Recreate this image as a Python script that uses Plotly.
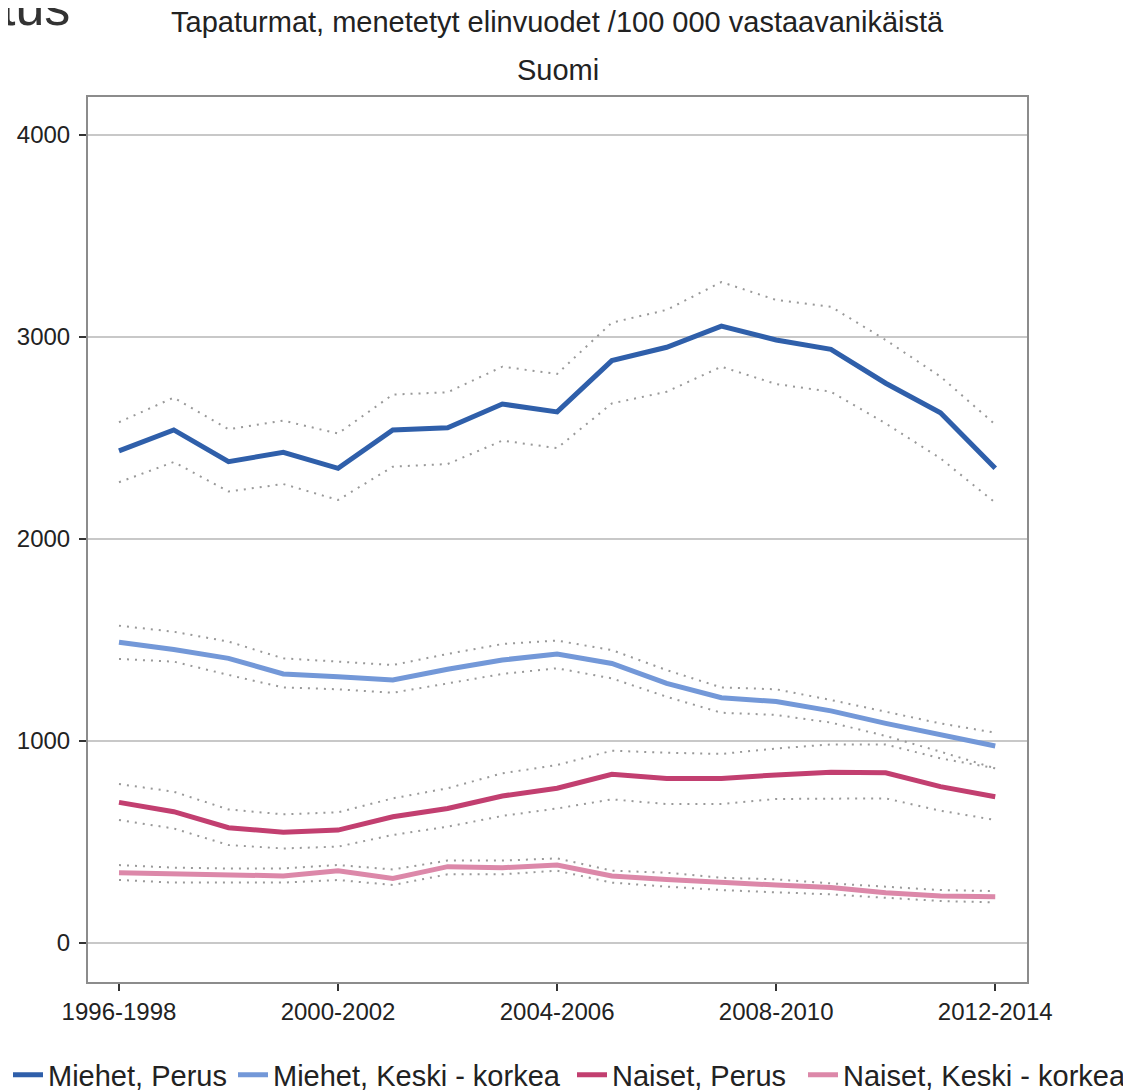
import plotly.graph_objects as go

periods = ["1996-1998", "1997-1999", "1998-2000", "1999-2001", "2000-2002", "2001-2003",
           "2002-2004", "2003-2005", "2004-2006", "2005-2007", "2006-2008", "2007-2009",
           "2008-2010", "2009-2011", "2010-2012", "2011-2013", "2012-2014"]

miehet_perus = [2436, 2540, 2383, 2429, 2350, 2540, 2551, 2668, 2629, 2883, 2949, 3054, 2985, 2939, 2771, 2625, 2350]
miehet_perus_hi = [2578, 2700, 2543, 2586, 2522, 2715, 2726, 2853, 2817, 3071, 3134, 3272, 3183, 3150, 2985, 2804, 2567]
miehet_perus_lo = [2281, 2381, 2235, 2272, 2193, 2358, 2371, 2487, 2450, 2671, 2729, 2853, 2767, 2729, 2572, 2399, 2180]

miehet_kk = [1489, 1453, 1409, 1332, 1318, 1302, 1355, 1401, 1431, 1384, 1285, 1214, 1195, 1149, 1087, 1030, 975]
miehet_kk_hi = [1571, 1541, 1492, 1409, 1393, 1376, 1431, 1480, 1497, 1450, 1351, 1265, 1256, 1203, 1145, 1087, 1041]
miehet_kk_lo = [1406, 1393, 1327, 1265, 1256, 1239, 1285, 1332, 1360, 1310, 1219, 1140, 1129, 1091, 1025, 947, 865]

naiset_perus = [696, 650, 571, 548, 559, 625, 666, 728, 766, 835, 815, 815, 832, 845, 843, 774, 724]
naiset_perus_hi = [787, 749, 661, 637, 647, 716, 766, 840, 881, 952, 942, 936, 963, 983, 983, 914, 865]
naiset_perus_lo = [609, 567, 485, 468, 477, 535, 576, 629, 666, 711, 688, 688, 713, 716, 716, 655, 609]

naiset_kk = [348, 343, 332, 332, 358, 320, 378, 373, 386, 332, 315, 299, 287, 275, 249, 233, 229]
naiset_kk_hi = [386, 373, 369, 369, 386, 364, 408, 408, 419, 358, 348, 323, 315, 295, 279, 262, 257]
naiset_kk_lo = [312, 299, 299, 299, 312, 287, 340, 340, 358, 299, 279, 262, 251, 241, 224, 208, 201]

y_ticks = [0, 1000, 2000, 3000, 4000]
x_tick_idx = [0, 4, 8, 12, 16]

series = [
    ("Miehet, Perus", miehet_perus, miehet_perus_hi, miehet_perus_lo, "#2f5faa"),
    ("Miehet, Keski - korkea", miehet_kk, miehet_kk_hi, miehet_kk_lo, "#7398d8"),
    ("Naiset, Perus", naiset_perus, naiset_perus_hi, naiset_perus_lo, "#c23f70"),
    ("Naiset, Keski - korkea", naiset_kk, naiset_kk_hi, naiset_kk_lo, "#dc88a9"),
]

W, H = 1123, 1083
ML, MT, PW, PH = 80, 89, 939, 885
legend_ids = ["legend", "legend2", "legend3", "legend4"]
legend_left_px = [-11, 225, 564, 795]

xs = list(range(len(periods)))
fig = go.Figure()

for name, v, hi, lo, col in series:
    for band in (hi, lo):
        fig.add_trace(go.Scatter(x=xs, y=band, mode="lines", showlegend=False,
                                 line=dict(color="#999999", width=2, dash="2px,6px"),
                                 hoverinfo="skip"))

for (name, v, hi, lo, col), lid in zip(series, legend_ids):
    fig.add_trace(go.Scatter(x=xs, y=v, mode="lines", name=name, legend=lid,
                             line=dict(color=col, width=5)))

legend_common = dict(orientation="h", xref="container", yref="container",
                     xanchor="left", y=1 - 1067 / H, yanchor="middle",
                     font=dict(size=29, color="#222222"),
                     itemwidth=30, bgcolor="rgba(0,0,0,0)", borderwidth=0)
legends = {lid: dict(legend_common, x=px / W) for lid, px in zip(legend_ids, legend_left_px)}

fig.update_layout(
    width=W, height=H,
    margin=dict(l=ML, r=W - ML - PW, t=MT, b=H - MT - PH, autoexpand=False),
    paper_bgcolor="white", plot_bgcolor="white",
    font=dict(family="Liberation Sans, Arial, sans-serif", color="#222222"),
    showlegend=True,
    **legends,
)

fig.update_xaxes(
    range=[-0.566, 16.58],
    tickmode="array", tickvals=x_tick_idx, ticktext=[periods[i] for i in x_tick_idx],
    ticks="outside", ticklen=7, tickwidth=2, tickcolor="#333333",
    tickfont=dict(size=24, color="#222222"), ticklabelstandoff=0,
    showgrid=False, zeroline=False,
    showline=True, linecolor="#8c8c8c", linewidth=2, mirror=True,
)
fig.update_yaxes(
    range=[-193, 4188],
    tickmode="array", tickvals=y_ticks,
    ticks="outside", ticklen=7, tickwidth=2, tickcolor="#333333",
    tickfont=dict(size=24, color="#222222"), ticklabelstandoff=4,
    showgrid=True, gridcolor="#c8c8c8", gridwidth=1.5, zeroline=False,
    showline=True, linecolor="#8c8c8c", linewidth=2, mirror=True,
)

plot_bottom = MT + PH
fig.add_annotation(text="Tapaturmat, menetetyt elinvuodet /100 000 vastaavanikäistä",
                   xref="paper", yref="paper", x=0.5, y=(plot_bottom - 14) / PH,
                   xanchor="center", yanchor="middle", showarrow=False,
                   font=dict(size=29, color="#222222"))
fig.add_annotation(text="Suomi",
                   xref="paper", yref="paper", x=0.5, y=(plot_bottom - 62) / PH,
                   xanchor="center", yanchor="middle", showarrow=False,
                   font=dict(size=29, color="#222222"))
fig.add_annotation(text="tus",
                   xref="paper", yref="paper", x=(-9 - ML) / PW, y=(plot_bottom - 30) / PH,
                   xanchor="left", yanchor="bottom", showarrow=False,
                   font=dict(size=52, color="#333333"))

fig.write_html("out.html")
